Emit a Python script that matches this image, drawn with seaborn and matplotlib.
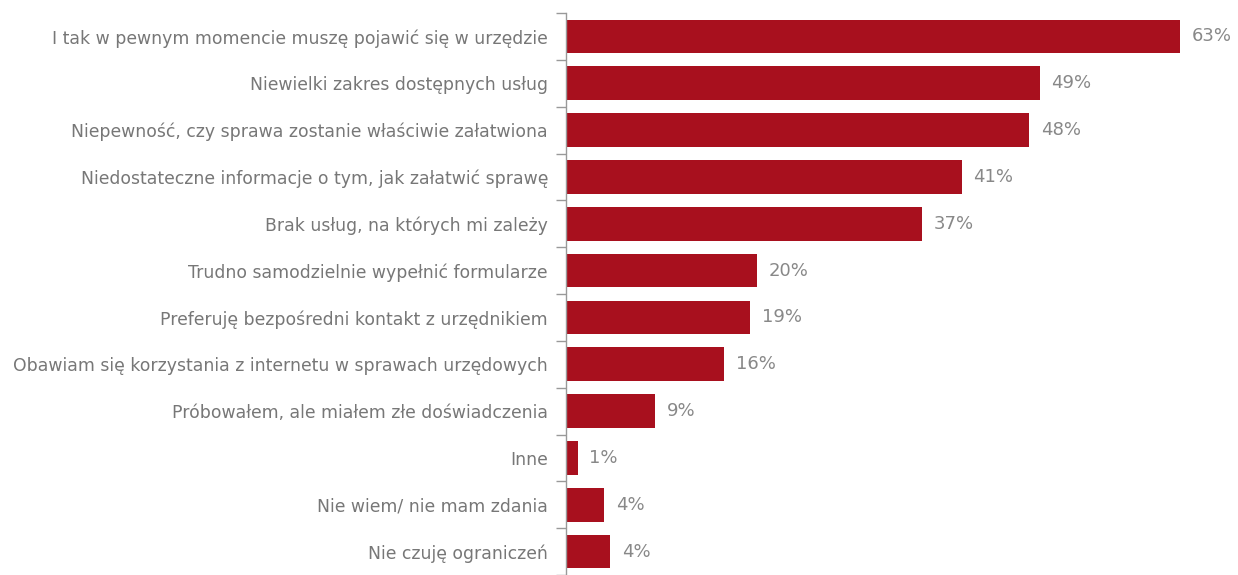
import matplotlib
matplotlib.use("Agg")
import matplotlib.pyplot as plt
import seaborn as sns
import pandas as pd
import numpy as np

categories = [
    "I tak w pewnym momencie muszę pojawić się w urzędzie",
    "Niewielki zakres dostępnych usług",
    "Niepewność, czy sprawa zostanie właściwie załatwiona",
    "Niedostateczne informacje o tym, jak załatwić sprawę",
    "Brak usług, na których mi zależy",
    "Trudno samodzielnie wypełnić formularze",
    "Preferuję bezpośredni kontakt z urzędnikiem",
    "Obawiam się korzystania z internetu w sprawach urzędowych",
    "Próbowałem, ale miałem złe doświadczenia",
    "Inne",
    "Nie wiem/ nie mam zdania",
    "Nie czuję ograniczeń",
]
# bar lengths (percent)
values = [63.0, 48.6, 47.5, 40.6, 36.5, 19.6, 18.9, 16.2, 9.1, 1.2, 3.9, 4.5]
labels = ["63%", "49%", "48%", "41%", "37%", "20%", "19%", "16%", "9%", "1%", "4%", "4%"]

sns.set_theme(style="white")
plt.rcParams["font.family"] = ["DejaVu Sans"]

df = pd.DataFrame({"cat": categories, "val": values})

fig = plt.figure(figsize=(12.38, 5.75), dpi=100)
ax = fig.add_axes([566 / 1238, 0.0, 1 - 566 / 1238, 1 - 13 / 575])
sns.barplot(data=df, x="val", y="cat", color="#A8101E", saturation=1, width=0.72,
            linewidth=0, ax=ax, orient="h")

ax.set_xlim(0, 672 / 9.75)
ax.set_ylim(11.5, -0.5)
ax.set_xlabel("")
ax.set_ylabel("")
ax.set_xticks([])
for s in ["top", "right", "bottom"]:
    ax.spines[s].set_visible(False)
ax.spines["left"].set_color("#999999")
ax.spines["left"].set_linewidth(1.0)

ax.set_yticks(range(len(categories)))
ax.set_yticklabels(categories, fontsize=12.4, color="#777777")
ax.tick_params(axis="y", which="major", length=0, pad=13)
ax.set_yticks(np.arange(-0.5, len(categories) + 0.5, 1), minor=True)
ax.tick_params(axis="y", which="minor", length=7, width=1, color="#999999", left=True)

for i, (v, lab) in enumerate(zip(values, labels)):
    ax.text(v + 1.2, i, lab, va="center", ha="left", fontsize=13, color="#888888")

fig.savefig("out.png", dpi=100)
